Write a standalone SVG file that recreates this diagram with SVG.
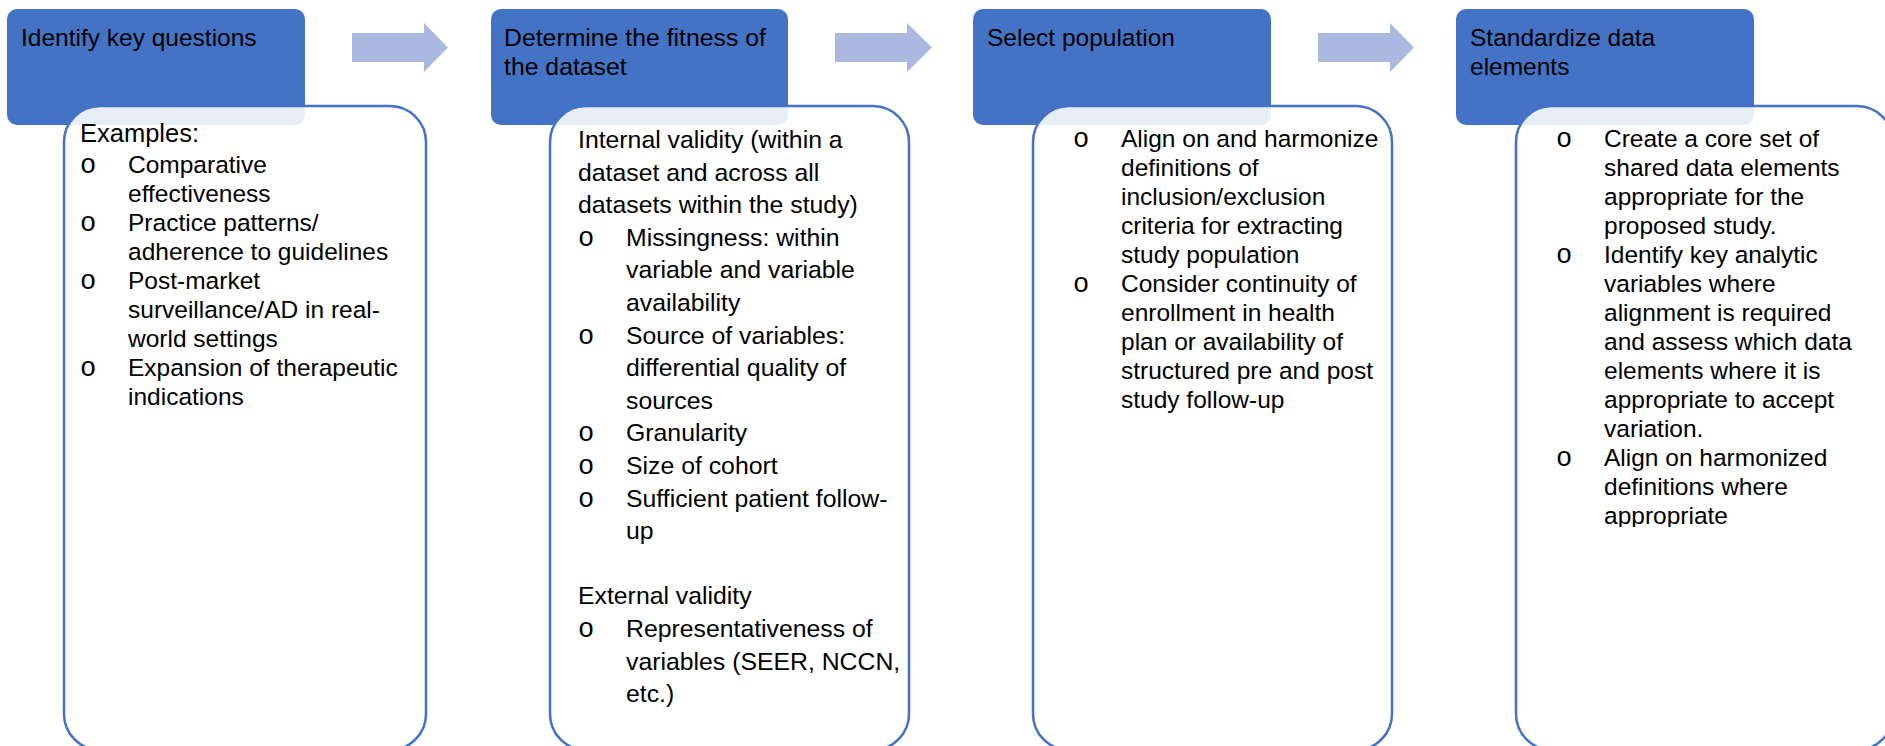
<svg xmlns="http://www.w3.org/2000/svg" width="1885" height="746" viewBox="0 0 1885 746">
<style>
.hdr{fill:#4472C4}
.box{fill:#FFFFFF;fill-opacity:0.88;stroke:#4472C4;stroke-width:2.5}
.arr{fill:#ABB9E0}
text{font-family:"Liberation Sans",Arial,sans-serif;font-size:24.5px;fill:#000}
.b2 text{font-size:24.8px}
text.bl{font-family:"Liberation Mono","Courier New",monospace;font-size:27px;text-anchor:middle}
.b2 text.bl{font-size:27px}
text.ex{font-size:25.5px}
</style>
<defs>
<clipPath id="clip4"><rect x="1500" y="100" width="400" height="427"/></clipPath>
</defs>
<rect width="1885" height="746" fill="#FFFFFF"/>
<g id="connectors">
<polygon class="arr" points="352,33 424,33 424,23 448,47.5 424,72 424,62 352,62"/>
<polygon class="arr" points="835,33 907,33 907,23 932,47.5 907,72 907,62 835,62"/>
<polygon class="arr" points="1318,33 1390,33 1390,23 1414,47.5 1390,72 1390,62 1318,62"/>
</g>
<g id="node1">
<rect class="hdr" x="7" y="9" width="298" height="116" rx="10"/>
<text x="21" y="46">Identify key questions</text>
<rect class="box" x="64" y="106" width="362" height="644" rx="36"/>
<text class="ex" x="80" y="142">Examples:</text>
<text class="bl" x="88" y="173">o</text>
<text x="128" y="173">Comparative</text>
<text x="128" y="202">effectiveness</text>
<text class="bl" x="88" y="231">o</text>
<text x="128" y="231">Practice patterns/</text>
<text x="128" y="260">adherence to guidelines</text>
<text class="bl" x="88" y="289">o</text>
<text x="128" y="289">Post-market</text>
<text x="128" y="318">surveillance/AD in real-</text>
<text x="128" y="347">world settings</text>
<text class="bl" x="88" y="376">o</text>
<text x="128" y="376">Expansion of therapeutic</text>
<text x="128" y="405">indications</text>
</g>
<g id="node2" class="b2">
<rect class="hdr" x="491" y="9" width="297" height="116" rx="10"/>
<text x="504" y="46">Determine the fitness of</text>
<text x="504" y="75">the dataset</text>
<rect class="box" x="550" y="106" width="359" height="644" rx="36"/>
<text x="578" y="148">Internal validity (within a</text>
<text x="578" y="181">dataset and across all</text>
<text x="578" y="213">datasets within the study)</text>
<text class="bl" x="586" y="246">o</text>
<text x="626" y="246">Missingness: within</text>
<text x="626" y="278">variable and variable</text>
<text x="626" y="311">availability</text>
<text class="bl" x="586" y="344">o</text>
<text x="626" y="344">Source of variables:</text>
<text x="626" y="376">differential quality of</text>
<text x="626" y="409">sources</text>
<text class="bl" x="586" y="441">o</text>
<text x="626" y="441">Granularity</text>
<text class="bl" x="586" y="474">o</text>
<text x="626" y="474">Size of cohort</text>
<text class="bl" x="586" y="507">o</text>
<text x="626" y="507">Sufficient patient follow-</text>
<text x="626" y="539">up</text>
<text x="578" y="604">External validity</text>
<text class="bl" x="586" y="637">o</text>
<text x="626" y="637">Representativeness of</text>
<text x="626" y="670">variables (SEER, NCCN,</text>
<text x="626" y="702">etc.)</text>
</g>
<g id="node3">
<rect class="hdr" x="973" y="9" width="298" height="116" rx="10"/>
<text x="987" y="46">Select population</text>
<rect class="box" x="1033" y="106" width="359" height="644" rx="36"/>
<text class="bl" x="1081" y="147">o</text>
<text x="1121" y="147">Align on and harmonize</text>
<text x="1121" y="176">definitions of</text>
<text x="1121" y="205">inclusion/exclusion</text>
<text x="1121" y="234">criteria for extracting</text>
<text x="1121" y="263">study population</text>
<text class="bl" x="1081" y="292">o</text>
<text x="1121" y="292">Consider continuity of</text>
<text x="1121" y="321">enrollment in health</text>
<text x="1121" y="350">plan or availability of</text>
<text x="1121" y="379">structured pre and post</text>
<text x="1121" y="408">study follow-up</text>
</g>
<g id="node4">
<rect class="hdr" x="1456" y="9" width="298" height="116" rx="10"/>
<text x="1470" y="46">Standardize data</text>
<text x="1470" y="75">elements</text>
<rect class="box" x="1516" y="106" width="377" height="644" rx="36"/>
<g clip-path="url(#clip4)">
<text class="bl" x="1564" y="147">o</text>
<text x="1604" y="147">Create a core set of</text>
<text x="1604" y="176">shared data elements</text>
<text x="1604" y="205">appropriate for the</text>
<text x="1604" y="234">proposed study.</text>
<text class="bl" x="1564" y="263">o</text>
<text x="1604" y="263">Identify key analytic</text>
<text x="1604" y="292">variables where</text>
<text x="1604" y="321">alignment is required</text>
<text x="1604" y="350">and assess which data</text>
<text x="1604" y="379">elements where it is</text>
<text x="1604" y="408">appropriate to accept</text>
<text x="1604" y="437">variation.</text>
<text class="bl" x="1564" y="466">o</text>
<text x="1604" y="466">Align on harmonized</text>
<text x="1604" y="495">definitions where</text>
<text x="1604" y="524">appropriate</text>
</g>
</g>
</svg>
